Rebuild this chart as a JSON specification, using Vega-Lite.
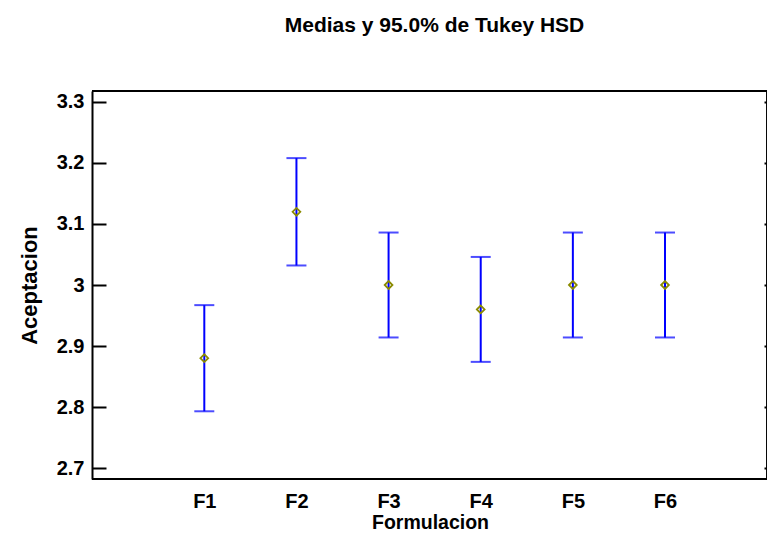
{
  "$schema": "https://vega.github.io/schema/vega-lite/v6.json",
  "width": 675,
  "height": 388,
  "autosize": {"type": "none"},
  "padding": {"left": 92, "top": 91, "right": 0, "bottom": 59},
  "background": "white",
  "title": {
    "text": "Medias y 95.0% de Tukey HSD",
    "font": "Liberation Sans",
    "fontSize": 21,
    "fontWeight": "bold",
    "color": "black",
    "baseline": "alphabetic",
    "offset": 37,
    "dx": 5
  },
  "data": {
    "values": [
      {"Formulacion": "F1", "media": 2.88, "inferior": 2.793, "superior": 2.967},
      {"Formulacion": "F2", "media": 3.12, "inferior": 3.032, "superior": 3.208},
      {"Formulacion": "F3", "media": 3.0, "inferior": 2.914, "superior": 3.086},
      {"Formulacion": "F4", "media": 2.96, "inferior": 2.874, "superior": 3.046},
      {"Formulacion": "F5", "media": 3.0, "inferior": 2.914, "superior": 3.086},
      {"Formulacion": "F6", "media": 3.0, "inferior": 2.914, "superior": 3.086}
    ]
  },
  "encoding": {
    "x": {
      "field": "Formulacion",
      "type": "ordinal",
      "scale": {"type": "point", "padding": 0, "range": [112.3, 573]},
      "axis": {
        "orient": "bottom",
        "title": "Formulacion",
        "labelAngle": 0,
        "ticks": false,
        "domain": false,
        "labelPadding": 28,
        "labelBaseline": "alphabetic",
        "labelFontSize": 20,
        "titleFontSize": 19.5,
        "titleX": 338,
        "titleY": 49,
        "titleBaseline": "alphabetic"
      }
    }
  },
  "layer": [
    {
      "mark": {"type": "rule", "color": "#0000FF", "strokeWidth": 2},
      "encoding": {
        "y": {
          "field": "inferior",
          "type": "quantitative",
          "scale": {"domain": [2.682, 3.318], "nice": false, "zero": false},
          "axis": {
            "orient": "left",
            "title": "Aceptacion",
            "values": [2.7, 2.8, 2.9, 3.0, 3.1, 3.2, 3.3],
            "format": "~f",
            "tickSize": -14,
            "labelPadding": 22,
            "labelFontSize": 20,
            "titleFontSize": 22,
            "titleX": -63,
            "titleY": 194,
            "titleBaseline": "middle",
            "titleAngle": -90
          }
        },
        "y2": {"field": "superior"}
      }
    },
    {
      "mark": {"type": "tick", "color": "#0000FF", "thickness": 2, "size": 20, "orient": "horizontal"},
      "encoding": {"y": {"field": "inferior", "type": "quantitative"}}
    },
    {
      "mark": {"type": "tick", "color": "#0000FF", "thickness": 2, "size": 20, "orient": "horizontal"},
      "encoding": {"y": {"field": "superior", "type": "quantitative"}}
    },
    {
      "mark": {"type": "point", "shape": "diamond", "filled": false, "stroke": "#8B8B00", "size": 60, "strokeWidth": 1.8, "opacity": 1},
      "encoding": {"y": {"field": "media", "type": "quantitative"}}
    },
    {
      "mark": {"type": "rule", "color": "black", "strokeWidth": 2},
      "encoding": {"x": null, "y": {"datum": 2.682, "type": "quantitative"}}
    },
    {
      "mark": {"type": "rule", "color": "black", "strokeWidth": 2},
      "encoding": {"x": null, "y": {"datum": 3.318, "type": "quantitative"}}
    },
    {
      "mark": {"type": "point", "opacity": 0},
      "encoding": {
        "y": {
          "field": "media",
          "type": "quantitative",
          "axis": {
            "orient": "right",
            "title": null,
            "labels": false,
            "domain": false,
            "values": [2.7, 2.8, 2.9, 3.0, 3.1, 3.2, 3.3],
            "tickSize": -3
          }
        }
      }
    }
  ],
  "resolve": {"axis": {"y": "independent"}},
  "config": {
    "view": {"stroke": null},
    "axis": {
      "grid": false,
      "domainColor": "black",
      "domainWidth": 2,
      "tickColor": "black",
      "tickWidth": 2,
      "labelFont": "Liberation Sans",
      "labelFontWeight": "bold",
      "labelColor": "black",
      "titleFont": "Liberation Sans",
      "titleFontWeight": "bold",
      "titleColor": "black"
    }
  }
}
